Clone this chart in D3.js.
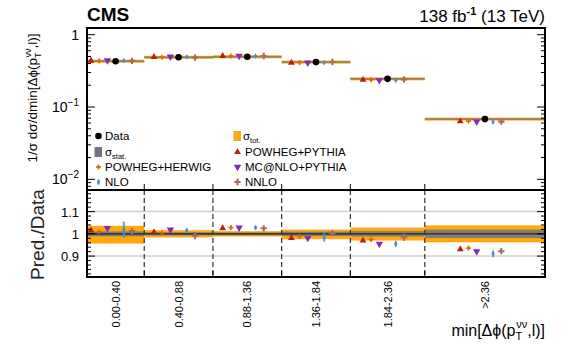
<!DOCTYPE html>
<html>
<head>
<meta charset="utf-8">
<script src="https://cdn.jsdelivr.net/npm/d3@7"></script>
<style>
  body { margin: 0; background: #fff; }
  svg { font-family: "Liberation Sans", Arial, Helvetica, sans-serif; }
</style>
</head>
<body>
<svg id="chart" width="580" height="348"></svg>
<script>
// Bin edges of min[Δφ(pT^νν, l)] and their labels
const binEdges = [0, 0.40, 0.88, 1.36, 1.84, 2.36, 3.20];
const binLabels = ["0.00-0.40", "0.40-0.88", "0.88-1.36", "1.36-1.84", "1.84-2.36", ">2.36"];

// Normalised measured cross section per bin
const dataValues = [0.430, 0.487, 0.495, 0.418, 0.245, 0.068];
// Relative uncertainties of the measurement
const totUp   = [0.036, 0.016, 0.012, 0.019, 0.028, 0.038];
const totDown = [0.044, 0.016, 0.012, 0.024, 0.030, 0.038];
const statUnc = [0.011, 0.007, 0.006, 0.010, 0.012, 0.019];

// Prediction / data ratios
const ratioPowhegPythia = [1.015, 1.008, 1.025, 0.981, 0.970, 0.931];
const ratioPowhegHerwig = [1.010, 1.004, 1.028, 0.988, 0.974, 0.936];
const ratioMcatnlo      = [1.026, 1.019, 1.028, 0.981, 0.955, 0.921];
const ratioNlo          = [1.018, 1.015, 1.028, 0.985, 0.955, 0.910];
const ratioNnlo         = [1.012, 0.992, 1.025, 1.003, 0.985, 0.922];
// Relative uncertainties of the predictions
const errPowhegPythia = [0.004, 0.004, 0.004, 0.004, 0.004, 0.004];
const errPowhegHerwig = [0.007, 0.006, 0.006, 0.007, 0.008, 0.007];
const errMcatnlo      = [0.003, 0.003, 0.003, 0.003, 0.003, 0.003];
const errNlo          = [0.037, 0.008, 0.007, 0.020, 0.012, 0.015];
const errNnlo         = [0.008, 0.017, 0.006, 0.010, 0.017, 0.006];

// Axis tick values
const upperMajorTicks = [0.01, 0.1, 1];
const ratioMajorTicks = [0.9, 1.0, 1.1];
const ratioTickLabels = ["0.9", "1", "1.1"];

// ---- layout ----
const x0 = 87, x1 = 545;
const upTop = 28, upBot = 190, loBot = 277;
const C = {
  pythia: "#bd1f01", herwig: "#e76300", mcatnlo: "#832db6",
  nlo: "#3f90da", nnlo: "#a96b59", tot: "#ffa90e", stat: "#717581"
};
const markerStep = 8.2;

const svg = d3.select("#chart");

const x = d3.scaleLinear().domain([binEdges[0], binEdges[binEdges.length - 1]]).range([x0, x1]);
const yUp = d3.scaleLog().domain([0.00711, 1.238]).range([upBot, upTop]);
const yLo = d3.scaleLinear().domain([0.806, 1.197]).range([loBot, upBot]);

const bins = dataValues.map((v, i) => ({
  i, lo: binEdges[i], hi: binEdges[i + 1], v,
  cx: (x(binEdges[i]) + x(binEdges[i + 1])) / 2
}));

const models = [
  { key: "pythia",  ratio: ratioPowhegPythia, err: errPowhegPythia, off: -3, shape: "tri" },
  { key: "herwig",  ratio: ratioPowhegHerwig, err: errPowhegHerwig, off: -2, shape: "plus" },
  { key: "mcatnlo", ratio: ratioMcatnlo,      err: errMcatnlo,      off: -1, shape: "tridown" },
  { key: "nlo",     ratio: ratioNlo,          err: errNlo,          off:  1, shape: "diamond" },
  { key: "nnlo",    ratio: ratioNnlo,         err: errNnlo,         off:  2, shape: "cross" }
];

function drawMarker(g, shape, color, cx, cy, yTop, yBot) {
  // vertical uncertainty bar
  if (yBot - yTop > 0.5) {
    g.append("line").attr("x1", cx).attr("x2", cx).attr("y1", yTop).attr("y2", yBot)
      .attr("stroke", color).attr("stroke-width", shape === "diamond" ? 2 : 1.4).attr("opacity", 0.85);
  }
  if (shape === "tri") {
    g.append("path").attr("d", d3.symbol(d3.symbolTriangle, 20)())
      .attr("transform", `translate(${cx},${cy})`).attr("fill", color);
  } else if (shape === "tridown") {
    g.append("path").attr("d", d3.symbol(d3.symbolTriangle, 24)())
      .attr("transform", `translate(${cx},${cy}) rotate(180)`).attr("fill", color);
  } else if (shape === "plus") {
    g.append("line").attr("x1", cx - 2.5).attr("x2", cx + 2.5).attr("y1", cy).attr("y2", cy)
      .attr("stroke", color).attr("stroke-width", 1.6);
    g.append("line").attr("x1", cx).attr("x2", cx).attr("y1", cy - 2.5).attr("y2", cy + 2.5)
      .attr("stroke", color).attr("stroke-width", 1.6);
  } else if (shape === "diamond") {
    g.append("path").attr("d", d3.symbol(d3.symbolDiamond, 10)())
      .attr("transform", `translate(${cx},${cy})`).attr("fill", color);
  } else if (shape === "cross") {
    g.append("path").attr("d", d3.symbol(d3.symbolCross, 22)())
      .attr("transform", `translate(${cx},${cy})`).attr("fill", color);
  }
}

// ================= upper panel =================
const up = svg.append("g");

// measurement bands
bins.forEach(b => {
  const xa = x(b.lo), xb = x(b.hi);
  let t1 = yUp(b.v * (1 + totUp[b.i])), t2 = yUp(b.v * (1 - totDown[b.i]));
  const ym = yUp(b.v);
  if (t2 - t1 < 3) { t1 = ym - 1.5; t2 = ym + 1.5; }
  up.append("rect").attr("x", xa).attr("width", xb - xa).attr("y", t1).attr("height", t2 - t1)
    .attr("fill", C.tot);
  let s1 = yUp(b.v * (1 + statUnc[b.i])), s2 = yUp(b.v * (1 - statUnc[b.i]));
  if (s2 - s1 < 1.6) { s1 = ym - 0.8; s2 = ym + 0.8; }
  up.append("rect").attr("x", xa).attr("width", xb - xa).attr("y", s1).attr("height", s2 - s1)
    .attr("fill", C.stat).attr("opacity", 0.8);
});

// predictions
bins.forEach(b => {
  models.forEach(m => {
    const val = b.v * m.ratio[b.i];
    const cx = b.cx + m.off * markerStep;
    drawMarker(up, m.shape, C[m.key], cx, yUp(val),
      yUp(val * (1 + m.err[b.i])), yUp(val * (1 - m.err[b.i])));
  });
  up.append("circle").attr("cx", b.cx).attr("cy", yUp(b.v)).attr("r", 3.3).attr("fill", "#000");
});

// log axis ticks (left and right, pointing inward)
const [dLo, dHi] = yUp.domain();
const minorTicks = [];
for (let e = -3; e <= 0; e++) {
  for (let k = 2; k <= 9; k++) {
    const v = k * Math.pow(10, e);
    if (v > dLo && v < dHi) minorTicks.push(v);
  }
}
const axUp = svg.append("g").attr("stroke", "#000").attr("stroke-width", 1);
upperMajorTicks.forEach(v => {
  axUp.append("line").attr("x1", x0).attr("x2", x0 + 8).attr("y1", yUp(v)).attr("y2", yUp(v));
  axUp.append("line").attr("x1", x1).attr("x2", x1 - 8).attr("y1", yUp(v)).attr("y2", yUp(v));
});
minorTicks.forEach(v => {
  axUp.append("line").attr("x1", x0).attr("x2", x0 + 4).attr("y1", yUp(v)).attr("y2", yUp(v));
  axUp.append("line").attr("x1", x1).attr("x2", x1 - 4).attr("y1", yUp(v)).attr("y2", yUp(v));
});
// bin edge ticks along the bottom of the upper panel
binEdges.slice(1, -1).forEach(e => {
  axUp.append("line").attr("x1", x(e)).attr("x2", x(e)).attr("y1", upBot).attr("y2", upBot - 6);
});

// upper tick labels
upperMajorTicks.forEach(v => {
  const t = svg.append("text").attr("x", 79).attr("y", yUp(v) + 5)
    .attr("text-anchor", "end").attr("font-size", 14).attr("fill", "#000");
  const e = Math.round(Math.log10(v));
  if (e === 0) {
    t.text("1");
  } else {
    t.append("tspan").text("10");
    t.append("tspan").attr("dy", -6).attr("font-size", 10).text("\u2212" + (-e));
  }
});

// upper y title
const yt = svg.append("text").attr("transform", "translate(37,98) rotate(-90)")
  .attr("text-anchor", "middle").attr("font-size", 13.5).attr("fill", "#000");
yt.append("tspan").text("1/\u03c3 d\u03c3/dmin[\u0394\u03d5(p");
yt.append("tspan").attr("dy", 4).attr("font-size", 9).text("T");
yt.append("tspan").attr("dy", -10).attr("dx", -5).attr("font-size", 9).text("\u03bd\u03bd");
yt.append("tspan").attr("dy", 6).text(",l)]");

// legend
const legRows = [136, 152, 167, 182];
const lg = svg.append("g").attr("font-size", 11.5).attr("fill", "#000");
function legText(xp, yp, str, sub) {
  const t = lg.append("text").attr("x", xp).attr("y", yp + 4);
  t.append("tspan").text(str);
  if (sub) t.append("tspan").attr("dy", 3).attr("font-size", 7.5).text(sub);
  return t;
}
// column 1
lg.append("circle").attr("cx", 98.5).attr("cy", legRows[0]).attr("r", 3.3).attr("fill", "#000");
legText(105, legRows[0], "Data");
lg.append("rect").attr("x", 94.5).attr("y", legRows[1] - 5).attr("width", 7.5).attr("height", 10).attr("fill", C.stat);
legText(105, legRows[1], "\u03c3", "stat.");
drawMarker(lg, "plus", C.herwig, 98.5, legRows[2], 0, 0);
legText(105, legRows[2], "POWHEG+HERWIG");
drawMarker(lg, "diamond", C.nlo, 98.5, legRows[3], legRows[3] - 2.5, legRows[3] + 2.5);
legText(105, legRows[3], "NLO");
// column 2
lg.append("rect").attr("x", 233.5).attr("y", legRows[0] - 5).attr("width", 7.5).attr("height", 10).attr("fill", C.tot);
legText(243, legRows[0], "\u03c3", "tot.");
drawMarker(lg, "tri", C.pythia, 237.5, legRows[1], 0, 0);
legText(245, legRows[1], "POWHEG+PYTHIA");
drawMarker(lg, "tridown", C.mcatnlo, 237.5, legRows[2], 0, 0);
legText(245, legRows[2], "MC@NLO+PYTHIA");
drawMarker(lg, "cross", C.nnlo, 237.5, legRows[3], 0, 0);
legText(245, legRows[3], "NNLO");

// ================= ratio panel =================
const lo = svg.append("g");
// grid lines at 0.9 and 1.1
[0.9, 1.1].forEach(v => {
  lo.append("line").attr("x1", x0).attr("x2", x1).attr("y1", yLo(v)).attr("y2", yLo(v))
    .attr("stroke", "#d0d0d0").attr("stroke-width", 1.5);
});
// measurement bands
bins.forEach(b => {
  const xa = x(b.lo), xb = x(b.hi);
  lo.append("rect").attr("x", xa).attr("width", xb - xa)
    .attr("y", yLo(1 + totUp[b.i])).attr("height", yLo(1 - totDown[b.i]) - yLo(1 + totUp[b.i]))
    .attr("fill", C.tot);
  lo.append("rect").attr("x", xa).attr("width", xb - xa)
    .attr("y", yLo(1 + statUnc[b.i])).attr("height", yLo(1 - statUnc[b.i]) - yLo(1 + statUnc[b.i]))
    .attr("fill", C.stat).attr("opacity", 0.85);
});
lo.append("line").attr("x1", x0).attr("x2", x1).attr("y1", yLo(1)).attr("y2", yLo(1))
  .attr("stroke", "#222").attr("stroke-width", 1.3);
// bin separators
binEdges.slice(1, -1).forEach(e => {
  lo.append("line").attr("x1", x(e)).attr("x2", x(e)).attr("y1", upBot).attr("y2", loBot)
    .attr("stroke", "#333").attr("stroke-width", 1.2).attr("stroke-dasharray", "5,3");
});
// prediction ratios
bins.forEach(b => {
  models.forEach(m => {
    const r = m.ratio[b.i];
    drawMarker(lo, m.shape, C[m.key], b.cx + m.off * markerStep, yLo(r),
      yLo(r + m.err[b.i]), yLo(r - m.err[b.i]));
  });
});

// ratio axis ticks
const axLo = svg.append("g").attr("stroke", "#000").attr("stroke-width", 1);
d3.range(0.82, 1.19, 0.02).forEach(v => {
  const major = ratioMajorTicks.some(t => Math.abs(t - v) < 1e-6);
  const len = major ? 8 : 4;
  axLo.append("line").attr("x1", x0).attr("x2", x0 + len).attr("y1", yLo(v)).attr("y2", yLo(v));
  axLo.append("line").attr("x1", x1).attr("x2", x1 - len).attr("y1", yLo(v)).attr("y2", yLo(v));
});
binEdges.slice(1, -1).forEach(e => {
  axLo.append("line").attr("x1", x(e)).attr("x2", x(e)).attr("y1", loBot).attr("y2", loBot - 6);
});
ratioMajorTicks.forEach((v, i) => {
  svg.append("text").attr("x", 79).attr("y", yLo(v) + 5).attr("text-anchor", "end")
    .attr("font-size", 13).attr("fill", "#000").text(ratioTickLabels[i]);
});
svg.append("text").attr("transform", `translate(44,${(upBot + loBot) / 2 + 1}) rotate(-90)`)
  .attr("text-anchor", "middle").attr("font-size", 19).attr("fill", "#222").text("Pred./Data");

// category labels
bins.forEach(b => {
  svg.append("text").attr("transform", `translate(${b.cx + 4},${loBot + 4}) rotate(-90)`)
    .attr("text-anchor", "end").attr("font-size", 11).attr("fill", "#000").text(binLabels[b.i]);
});

// frames
svg.append("rect").attr("x", x0).attr("y", upTop).attr("width", x1 - x0).attr("height", upBot - upTop)
  .attr("fill", "none").attr("stroke", "#000").attr("stroke-width", 2);
svg.append("rect").attr("x", x0).attr("y", upBot).attr("width", x1 - x0).attr("height", loBot - upBot)
  .attr("fill", "none").attr("stroke", "#000").attr("stroke-width", 2);

// x title
const xt = svg.append("text").attr("x", x1).attr("y", 336).attr("text-anchor", "end")
  .attr("font-size", 16).attr("fill", "#000");
xt.append("tspan").text("min[\u0394\u03d5(p");
xt.append("tspan").attr("dy", 4).attr("font-size", 11).text("T");
xt.append("tspan").attr("dy", -12).attr("dx", -6).attr("font-size", 11).text("\u03bd\u03bd");
xt.append("tspan").attr("dy", 8).text(",l)]");

// headers
svg.append("text").attr("x", x0).attr("y", 21).attr("font-size", 19).attr("font-weight", "bold")
  .attr("fill", "#000").text("CMS");
const lumi = svg.append("text").attr("x", x1).attr("y", 22).attr("text-anchor", "end")
  .attr("font-size", 17).attr("fill", "#000");
lumi.append("tspan").text("138 fb");
lumi.append("tspan").attr("dy", -7).attr("font-size", 11).attr("font-weight", "bold").text("-1");
lumi.append("tspan").attr("dy", 7).text(" (13 TeV)");
</script>
</body>
</html>
